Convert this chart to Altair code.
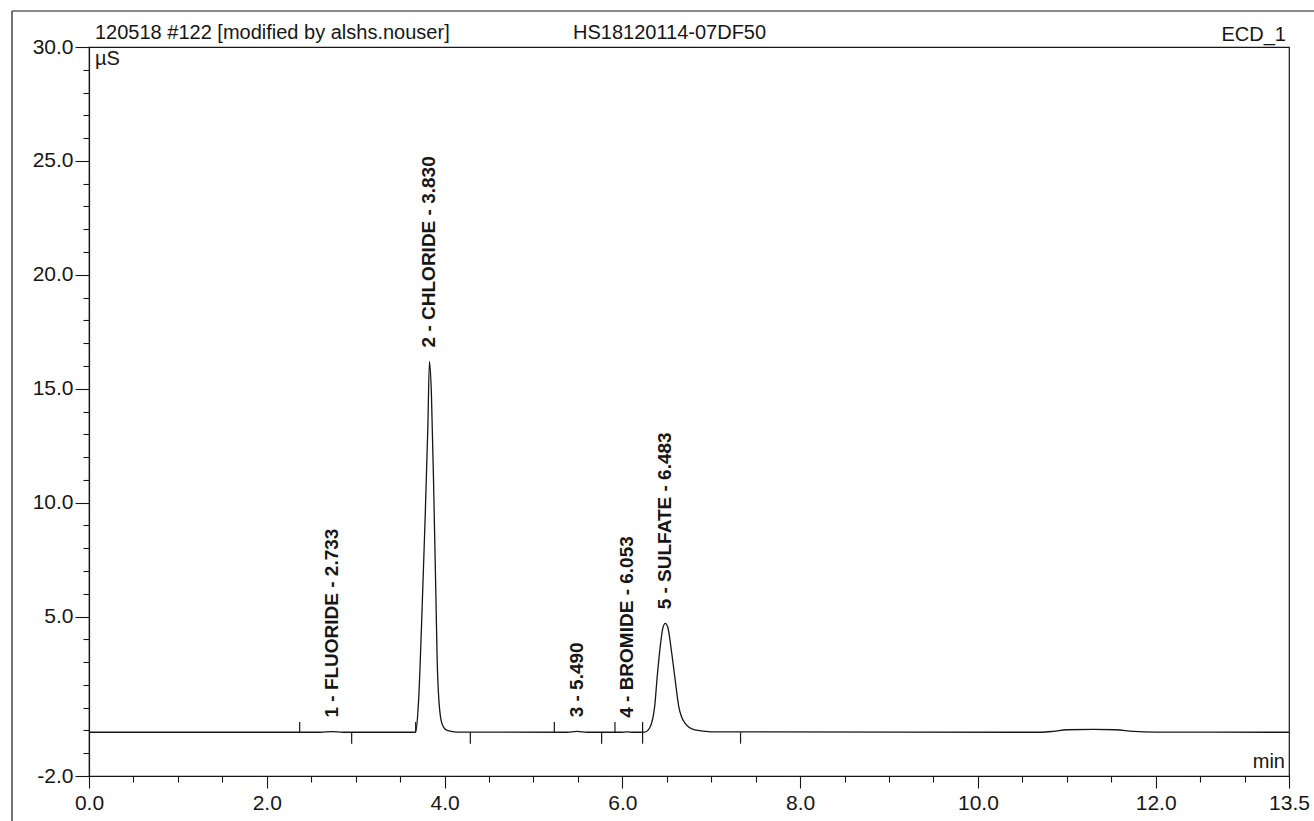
import altair as alt
import pandas as pd

# Conductivity trace: retention time (min) and signal (µS)
trace_time = [0.0, 2.60, 2.733, 2.86, 3.66, 3.673, 3.711, 3.740, 3.778, 3.812,
              3.830, 3.852, 3.879, 3.902, 3.917, 3.936, 3.973, 4.029, 4.142, 5.38,
              5.49, 5.60, 5.98, 6.053, 6.12, 6.251, 6.308, 6.364, 6.393, 6.427,
              6.457, 6.483, 6.513, 6.550, 6.589, 6.634, 6.701, 6.814, 7.000, 10.70,
              10.85, 11.00, 11.30, 11.55, 11.75, 12.00, 13.50]
trace_signal = [-0.08, -0.08, -0.05, -0.08, -0.08, -0.07, 1.55, 4.5, 8.9, 13.3,
                16.2, 14.8, 10.4, 6.0, 3.1, 1.33, 0.27, 0.0, -0.07, -0.08,
                -0.04, -0.08, -0.08, -0.06, -0.08, -0.07, 0.12, 1.07, 2.39, 3.71,
                4.51, 4.7, 4.51, 3.56, 2.39, 1.07, 0.34, 0.02, -0.06, -0.08,
                -0.04, 0.03, 0.05, 0.03, -0.04, -0.07, -0.08]

# Identified peaks
peak_label = ["1 - FLUORIDE - 2.733", "2 - CHLORIDE - 3.830", "3 - 5.490",
              "4 - BROMIDE - 6.053", "5 - SULFATE - 6.483"]
peak_time = [2.733, 3.830, 5.490, 6.053, 6.483]
peak_height = [-0.05, 16.2, -0.04, -0.06, 4.7]

# Integration delimiters (start marks above the baseline, end marks below)
delim_time = [2.37, 2.955, 3.675, 4.29, 5.235, 5.767, 5.917, 6.228, 6.228, 7.33]
delim_side = ["start", "end", "start", "end", "start", "end", "start", "start", "end", "end"]

# Axis ticks
x_major = [0.0, 2.0, 4.0, 6.0, 8.0, 10.0, 12.0, 13.5]
x_minor = [0.5, 1.0, 1.5, 2.5, 3.0, 3.5, 4.5, 5.0, 5.5, 6.5, 7.0, 7.5, 8.5, 9.0,
           9.5, 10.5, 11.0, 11.5, 12.5, 13.0]
y_major = [30.0, 25.0, 20.0, 15.0, 10.0, 5.0, -2.0]
y_minor = [-1, 0, 1, 2, 3, 4, 6, 7, 8, 9, 11, 12, 13, 14, 16, 17, 18, 19,
           21, 22, 23, 24, 26, 27, 28, 29]

header_left = "120518 #122 [modified by alshs.nouser]"
header_mid = "HS18120114-07DF50"
header_right = "ECD_1"
y_unit = "µS"
x_unit = "min"

INK = "#161616"
FONT = "Liberation Sans"
W, H = 1200, 729
BASE = -0.08

xs = alt.Scale(domain=[0, 13.5], nice=False, zero=False)
ys = alt.Scale(domain=[-2, 30], nice=False, zero=False)

trace_df = pd.DataFrame({"t": trace_time, "v": trace_signal})
peaks_df = pd.DataFrame({"t": peak_time, "h": peak_height, "label": peak_label})
delim_df = pd.DataFrame({"t": delim_time, "side": delim_side})
delim_df["y1"] = BASE
delim_df["y2"] = [BASE + 0.45 if s == "start" else BASE - 0.5 for s in delim_side]

trace = alt.Chart(trace_df).mark_line(
    color=INK, strokeWidth=1.3, interpolate="monotone"
).encode(
    x=alt.X("t:Q", scale=xs, axis=alt.Axis(
        orient="bottom", values=x_major, format=".1f", tickSize=12,
        labelPadding=4, labelFlush=False, title=None, grid=False)),
    y=alt.Y("v:Q", scale=ys, axis=alt.Axis(
        orient="left", values=y_major, tickSize=14, labelPadding=2,
        labelFlush=False, title=None, grid=False,
        labelExpr="datum.value < 0 ? '-' + format(-datum.value, '.1f') : format(datum.value, '.1f')")),
)

delims = alt.Chart(delim_df).mark_rule(color=INK, strokeWidth=1.2).encode(
    x=alt.X("t:Q", scale=xs, axis=alt.Axis(
        orient="bottom", values=x_minor, labels=False, domain=False,
        tickSize=6, title=None, grid=False)),
    y=alt.Y("y1:Q", scale=ys, axis=alt.Axis(
        orient="left", values=y_minor, labels=False, domain=False,
        tickSize=6, title=None, grid=False)),
    y2="y2:Q",
)

labels = alt.Chart(peaks_df).mark_text(
    angle=270, align="left", baseline="middle", dx=14,
    font=FONT, fontSize=19, fontWeight="bold", color=INK
).encode(
    x=alt.X("t:Q", scale=xs, axis=None),
    y=alt.Y("h:Q", scale=ys, axis=None),
    text="label:N",
)


def note(text, x, y, align="left", size=20):
    return alt.Chart(pd.DataFrame({"s": [text]})).mark_text(
        align=align, baseline="alphabetic", font=FONT, fontSize=size, color=INK
    ).encode(x=alt.value(x), y=alt.value(y), text="s:N")


notes = [
    note(header_left, 6, -8),
    note(header_mid, 484, -8),
    note(header_right, 1197, -6, align="right"),
    note(y_unit, 6, 18),
    note(x_unit, 1196, 721, align="right"),
]

frame_top = alt.Chart(pd.DataFrame({"k": [0]})).mark_rule(color=INK, strokeWidth=1.2).encode(
    x=alt.value(-77), x2=alt.value(1230), y=alt.value(-36))
frame_left = alt.Chart(pd.DataFrame({"k": [0]})).mark_rule(color=INK, strokeWidth=1.2).encode(
    x=alt.value(-77), y=alt.value(-36), y2=alt.value(780))

chart = alt.layer(
    trace, delims, labels, *notes, frame_top, frame_left
).resolve_axis(x="independent", y="independent").properties(
    width=W, height=H,
    autosize=alt.AutoSizeParams(type="none"),
    padding={"left": 89, "top": 47, "right": 25, "bottom": 45},
    background="white",
).configure_view(
    stroke=INK, strokeWidth=1.2
).configure_axis(
    domainColor=INK, domainWidth=1.2, tickColor=INK, tickWidth=1.1,
    labelColor=INK, labelFont=FONT, labelFontSize=21,
)

chart.save("out.html", embed_options={"renderer": "svg", "actions": False})
